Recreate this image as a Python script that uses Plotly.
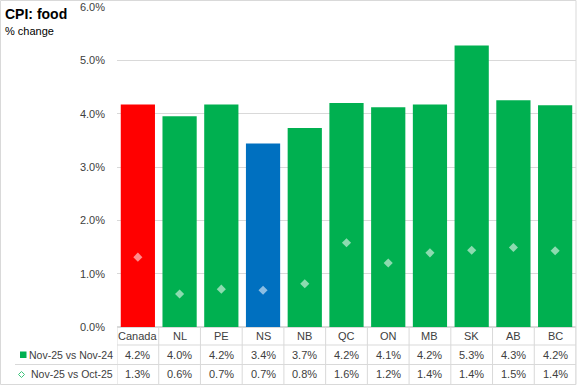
import plotly.graph_objects as go

categories = ["Canada", "NL", "PE", "NS", "NB", "QC", "ON", "MB", "SK", "AB", "BC"]
yoy = [4.17, 3.95, 4.17, 3.44, 3.73, 4.20, 4.12, 4.17, 5.28, 4.25, 4.16]
mom = [1.31, 0.62, 0.71, 0.69, 0.81, 1.58, 1.20, 1.39, 1.44, 1.49, 1.43]
yoy_labels = ["4.2%", "4.0%", "4.2%", "3.4%", "3.7%", "4.2%", "4.1%", "4.2%", "5.3%", "4.3%", "4.2%"]
mom_labels = ["1.3%", "0.6%", "0.7%", "0.7%", "0.8%", "1.6%", "1.2%", "1.4%", "1.4%", "1.5%", "1.4%"]
series_names = ["Nov-25 vs Nov-24", "Nov-25 vs Oct-25"]
bar_colors = ["#ff0000", "#00b050", "#00b050", "#0070c0", "#00b050", "#00b050",
              "#00b050", "#00b050", "#00b050", "#00b050", "#00b050"]

W, H = 577, 385
ML, MR, MT, MB = 117, 1, 7, 58
PW, PH = W - ML - MR, H - MT - MB

def px(x):
    return (x - ML) / PW

def py(y):
    return (H - MB - y) / PH

FONT = "Liberation Sans"
TXT = "#404040"
GRID = "#d9d9d9"

fig = go.Figure()
fig.add_trace(go.Bar(x=categories, y=yoy, marker=dict(color=bar_colors, line=dict(width=0)),
                     name=series_names[0], showlegend=False))
fig.add_trace(go.Scatter(x=categories, y=mom, mode="markers", name=series_names[1],
                         marker=dict(symbol="diamond", size=7, color="rgba(255,255,255,0.55)",
                                     line=dict(width=0)), showlegend=False))

annotations = []
shapes = []
n = len(categories)
row_y = [py(336), py(355), py(374)]
for i, c in enumerate(categories):
    annotations.append(dict(x=c, y=row_y[0], xref="x", yref="paper", text=c, showarrow=False,
                            font=dict(size=11, color=TXT, family=FONT), yanchor="middle"))
    annotations.append(dict(x=c, y=row_y[1], xref="x", yref="paper", text=yoy_labels[i], showarrow=False,
                            font=dict(size=11, color=TXT, family=FONT), yanchor="middle"))
    annotations.append(dict(x=c, y=row_y[2], xref="x", yref="paper", text=mom_labels[i], showarrow=False,
                            font=dict(size=11, color=TXT, family=FONT), yanchor="middle"))

# table vertical lines
for k in range(n + 1):
    shapes.append(dict(type="line", xref="x", yref="paper", x0=k - 0.5, x1=k - 0.5,
                       y0=py(327), y1=py(384), line=dict(color=GRID, width=1)))
# table horizontal lines
shapes.append(dict(type="line", xref="paper", yref="paper", x0=0, x1=1, y0=py(345), y1=py(345),
                   line=dict(color=GRID, width=1)))
shapes.append(dict(type="line", xref="paper", yref="paper", x0=px(15), x1=1, y0=py(364.5), y1=py(364.5),
                   line=dict(color=GRID, width=1)))
# outer chart border
shapes.append(dict(type="rect", xref="paper", yref="paper", x0=px(0.5), x1=px(576), y0=py(384.5), y1=py(0.5),
                   line=dict(color=GRID, width=1), fillcolor="rgba(0,0,0,0)", layer="below"))

# legend keys in table
annotations.append(dict(x=px(115), y=row_y[1], xref="paper", yref="paper", text=series_names[0],
                        showarrow=False, xanchor="right", yanchor="middle",
                        font=dict(size=10.5, color=TXT, family=FONT)))
annotations.append(dict(x=px(115), y=row_y[2], xref="paper", yref="paper", text=series_names[1],
                        showarrow=False, xanchor="right", yanchor="middle",
                        font=dict(size=10.5, color=TXT, family=FONT)))
shapes.append(dict(type="rect", xref="paper", yref="paper", x0=px(20), x1=px(26.5),
                   y0=py(358), y1=py(351.5), fillcolor="#00b050", line=dict(width=0)))
shapes.append(dict(type="path", xref="paper", yref="paper",
                   path=f"M {px(18.5)},{py(374.5)} L {px(21.5)},{py(371.5)} L {px(24.5)},{py(374.5)} L {px(21.5)},{py(377.5)} Z",
                   fillcolor="white", line=dict(color="#3cc47a", width=1)))

# titles
annotations.append(dict(x=px(3), y=py(4), xref="paper", yref="paper", text="<b>CPI: food</b>",
                        showarrow=False, xanchor="left", yanchor="top",
                        font=dict(size=14, color="#000000", family=FONT)))
annotations.append(dict(x=px(3), y=py(23), xref="paper", yref="paper", text="% change",
                        showarrow=False, xanchor="left", yanchor="top",
                        font=dict(size=11, color="#000000", family=FONT)))

fig.update_layout(
    width=W, height=H,
    margin=dict(l=ML, r=MR, t=MT, b=MB, pad=0),
    paper_bgcolor="white", plot_bgcolor="white",
    bargap=0.18,
    showlegend=False,
    xaxis=dict(showticklabels=False, showgrid=False, zeroline=False, showline=False,
               range=[-0.5, n - 0.5], fixedrange=True),
    yaxis=dict(range=[0, 6], dtick=1, tickformat=".1f", ticksuffix="%", showgrid=True,
               gridcolor=GRID, gridwidth=1, zeroline=True, zerolinecolor=GRID, showline=False,
               tickfont=dict(size=11, color=TXT, family=FONT), ticks="", ticklabelstandoff=11),
    annotations=annotations,
    shapes=shapes,
)

fig.write_html("out.html", config={"displayModeBar": False},
               post_script="document.body.style.margin='0';document.body.style.overflow='hidden';")
